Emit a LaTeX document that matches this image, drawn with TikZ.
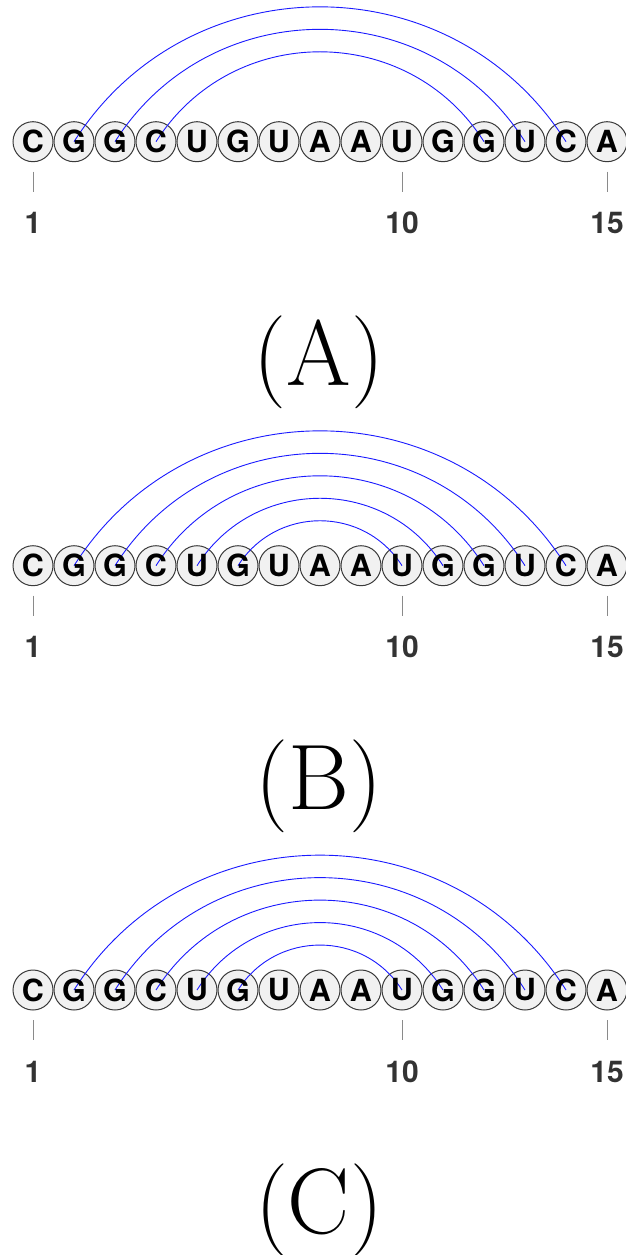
\documentclass[tikz,border=0pt]{standalone}
\usepackage{fontspec}
\newfontfamily\basefont{TeX Gyre Heros}
\definecolor{circfill}{HTML}{F1F1F1}
\definecolor{circline}{HTML}{3A3A3A}
\definecolor{tickcol}{HTML}{8A8A8A}
\definecolor{numcol}{HTML}{333333}
\definecolor{arccol}{HTML}{1A1AFF}
\tikzset{
  basecirc/.style={circle, draw=circline, fill=circfill, line width=1pt, minimum size=40pt, inner sep=0pt},
  baseletter/.style={inner sep=0pt, font=\basefont\bfseries\fontsize{30.5}{32}\selectfont, text=black},
  ticklabel/.style={inner sep=0pt, font=\basefont\bfseries\fontsize{30}{32}\selectfont, text=numcol},
  tickline/.style={draw=tickcol, line width=1pt},
  pairarc/.style={draw=arccol, line width=0.9pt},
  panellabel/.style={inner sep=0pt, anchor=base, font=\fontsize{93}{95}\selectfont}
}
\begin{document}
\begin{tikzpicture}[x=1pt, y=-1pt]
\useasboundingbox (0,0) rectangle (626,1255);
\foreach \p/\y/\lab in {A/141.7/(A), B/565.7/(B), C/990/(C)} {
  % circles
  \foreach \l [count=\i] in {C,G,G,C,U,G,U,A,A,U,G,G,U,C,A} {
    \node[basecirc] (\p\i) at ({33+(\i-1)*41}, \y) {};
  }
  % ticks and numbers
  \foreach \i in {1,10,15} {
    \draw[tickline] ([yshift=-30pt]\p\i.center) -- ([yshift=-50pt]\p\i.center);
    \node[ticklabel] (\p\i num) at ([yshift=-81.5pt]\p\i.center) {\i};
  }
  \node[panellabel] (\p lab) at (319, {\y+243.3}) {\lab};
}
% base pairs
\draw[pairarc] (A2.center) to[bend left=57.6, looseness=1.11] (A14.center);
\draw[pairarc] (A3.center) to[bend left=57.6, looseness=1.11] (A13.center);
\draw[pairarc] (A4.center) to[bend left=57.6, looseness=1.11] (A12.center);
\foreach \p in {B,C} {
  \draw[pairarc] (\p2.center) to[bend left=57.6, looseness=1.11] (\p14.center);
  \draw[pairarc] (\p3.center) to[bend left=57.6, looseness=1.11] (\p13.center);
  \draw[pairarc] (\p4.center) to[bend left=57.6, looseness=1.11] (\p12.center);
  \draw[pairarc] (\p5.center) to[bend left=57.6, looseness=1.11] (\p11.center);
  \draw[pairarc] (\p6.center) to[bend left=57.6, looseness=1.11] (\p10.center);
}
% letters on top
\foreach \p in {A,B,C} {
  \foreach \l [count=\i] in {C,G,G,C,U,G,U,A,A,U,G,G,U,C,A} {
    \node[baseletter] (\p\i let) at (\p\i.center) {\l};
  }
}
\end{tikzpicture}
\end{document}
